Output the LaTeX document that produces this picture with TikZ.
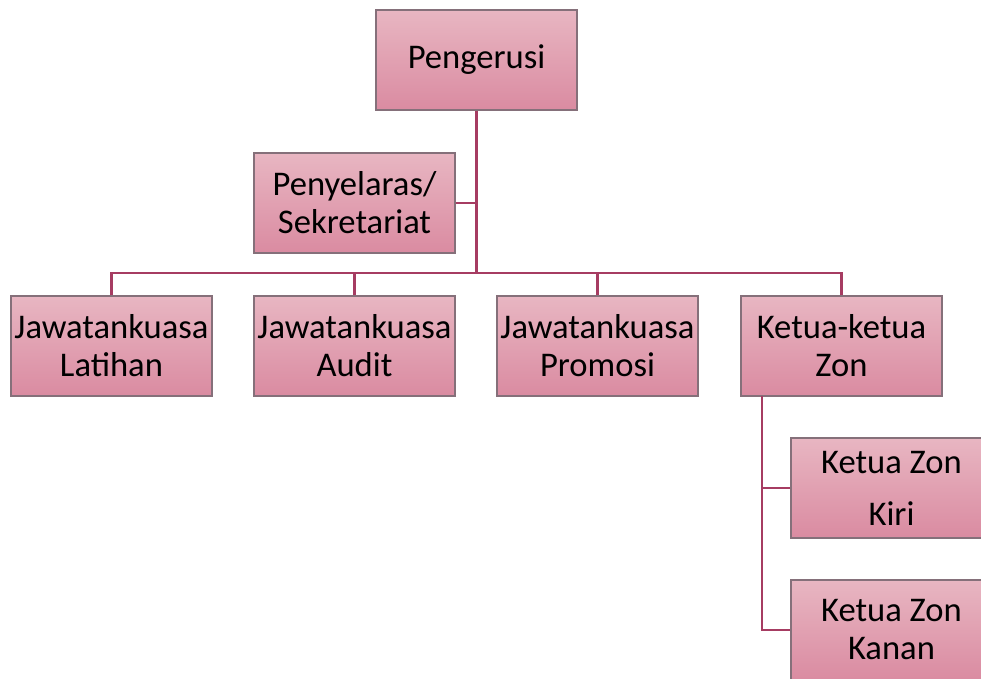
\documentclass[tikz,border=0pt]{standalone}
\usepackage{fontspec}
\setmainfont{Carlito}
\usepackage{tikz}
\usetikzlibrary{positioning,calc}
\definecolor{boxtop}{HTML}{E8B6C2}
\definecolor{boxbot}{HTML}{DA8BA1}
\definecolor{boxline}{HTML}{85707A}
\definecolor{linkred}{HTML}{A63C62}
\tikzset{
  post/.style={rectangle, draw=boxline, line width=0.6pt, top color=boxtop,
    bottom color=boxbot, minimum width=100.5pt, minimum height=50pt,
    inner sep=1pt, align=center, font=\fontsize{17.3pt}{19pt}\selectfont, text=black},
  link/.style={draw=linkred, line width=1.4pt},
}

\begin{document}
\begin{tikzpicture}[x=0.5pt,y=-0.5pt]
  \useasboundingbox (0,0) rectangle (981,679);
  % top and staff
  \node[post] (peng) at (476.5,60) {Pengerusi};
  \node[post] (peny) at (354.5,203) {Penyelaras/\\Sekretariat};
  % committees
  \node[post] (latihan) at (111.5,346) {Jawatankuasa\\Latihan};
  \node[post] (audit)   at (354.5,346) {Jawatankuasa\\Audit};
  \node[post] (promosi) at (597.5,346) {Jawatankuasa\\Promosi};
  \node[post] (zon)     at (841.5,346) {Ketua-ketua\\Zon};
  % zones
  \node[post] (kiri)  at (891.5,488) {Ketua Zon\\[7pt]Kiri};
  \node[post] (kanan) at (891.5,630) {Ketua Zon\\Kanan};
  \coordinate (bus) at (476.5,273);
  \coordinate (zonleg) at (762,396);
  % connectors
  \draw[link] (peng.south) -- (peng.south |- bus);
  \draw[link] (peny.east) -- (peny.east -| peng.south);
  \draw[link] (latihan.north) |- (bus -| zon.north) -- (zon.north);
  \draw[link] (audit.north) -- (audit.north |- bus);
  \draw[link] (promosi.north) -- (promosi.north |- bus);
  \draw[link] (zonleg) |- (kanan.west);
  \draw[link] (kiri.west) -- (kiri.west -| zonleg);
\end{tikzpicture}
\end{document}
